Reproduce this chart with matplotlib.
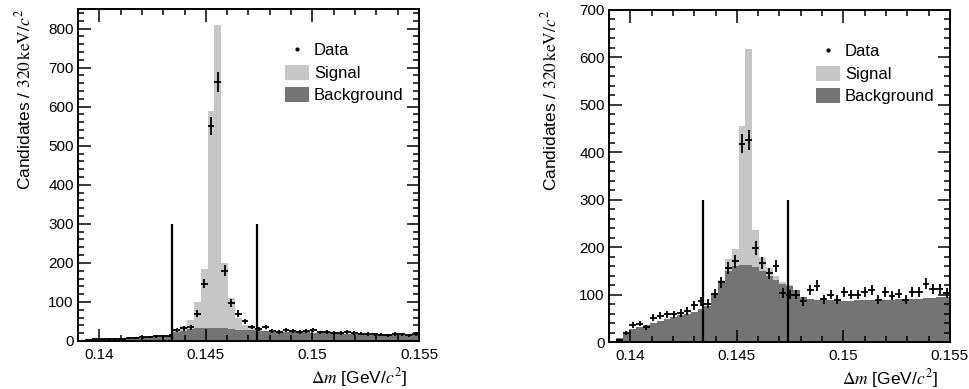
import numpy as np
import matplotlib
matplotlib.use('Agg')
import matplotlib.pyplot as plt
from matplotlib.patches import Patch
from matplotlib.lines import Line2D
from matplotlib.ticker import MultipleLocator, FixedLocator

plt.rcParams['font.family'] = ['Liberation Sans', 'DejaVu Sans']
plt.rcParams['mathtext.fontset'] = 'stix'

# binning: 50 bins of 320 keV from 0.139 to 0.155 GeV
edges = 0.139 + 0.00032 * np.arange(51)
cut_lo, cut_hi = 0.1434, 0.1474

# left panel
data_L = [0, 2, 6, 4, 5, 6, 5, 7, 8, 9, 10, 12, 12, 14, 28, 32, 35, 70, 147, 551,
          664, 180, 98, 70, 50, 36, 30, 36, 26, 24, 29, 25, 24, 26, 27, 22, 24, 21, 20, 23,
          21, 19, 18, 17, 16, 15, 18, 17, 15, 18]
bkg_L = [0, 1, 3, 4, 5, 6, 7, 7, 8, 8, 9, 10, 11, 13, 22, 26, 30, 32, 33, 34,
         34, 33, 31, 29, 28, 27, 26, 25, 24, 24, 23, 23, 22, 22, 21, 21, 20, 20, 20, 19,
         19, 18, 18, 18, 17, 17, 17, 16, 16, 16]
sig_L = [0, 0, 0, 0, 0, 0, 0, 0, 0, 0, 0, 0, 0, 1, 5, 12, 25, 68, 152, 556,
         774, 167, 79, 31, 14, 6, 3, 1, 0, 0, 0, 0, 0, 0, 0, 0, 0, 0, 0, 0,
         0, 0, 0, 0, 0, 0, 0, 0, 0, 0]

# right panel
data_R = [0, 5, 19, 36, 39, 31, 51, 55, 58, 58, 61, 65, 77, 86, 81, 102, 126, 156, 170, 418,
          426, 198, 166, 145, 160, 103, 100, 100, 86, 109, 119, 90, 100, 89, 105, 100, 100, 105, 110, 89,
          105, 98, 102, 89, 105, 105, 123, 112, 112, 103]
bkg_R = [2, 8, 20, 28, 32, 36, 40, 44, 48, 52, 56, 60, 64, 70, 76, 100, 125, 150, 160, 163,
         162, 158, 150, 140, 130, 122, 118, 110, 95, 90, 88, 88, 88, 87, 87, 87, 88, 88, 88, 88,
         89, 89, 90, 90, 90, 91, 92, 93, 94, 95]
sig_R = [0, 0, 0, 0, 0, 0, 0, 0, 0, 0, 0, 0, 0, 0, 0, 0, 5, 25, 36, 293,
         455, 79, 30, 15, 10, 4, 2, 0, 0, 0, 0, 0, 0, 0, 0, 0, 0, 0, 0, 0,
         0, 0, 0, 0, 0, 0, 0, 0, 0, 0]

sig_col = '#c6c6c6'
bkg_col = '#747474'

fig = plt.figure(figsize=(9.7, 3.89), dpi=100)
axL = fig.add_axes([0.0804, 0.1234, 0.3515, 0.8535])
axR = fig.add_axes([0.6278, 0.1208, 0.3515, 0.8535])


def draw(ax, data, bkg, sig, ymax):
    data = np.array(data, float)
    bkg = np.array(bkg, float)
    sig = np.array(sig, float)
    w = np.diff(edges)
    centers = edges[:-1] + w / 2
    ax.bar(edges[:-1], bkg, width=w, align='edge', color=bkg_col, linewidth=0)
    ax.bar(edges[:-1], sig, bottom=bkg, width=w, align='edge', color=sig_col, linewidth=0)
    ax.errorbar(centers, data, xerr=w / 2, yerr=np.sqrt(data), fmt='none',
                ecolor='black', elinewidth=1.3, capsize=0)
    ax.vlines([cut_lo, cut_hi], 0, 300, color='black', linewidth=1.6)
    ax.set_xlim(0.139, 0.155)
    ax.set_ylim(0, ymax)
    ax.xaxis.set_major_locator(FixedLocator([0.14, 0.145, 0.15, 0.155]))
    ax.set_xticklabels(['0.14', '0.145', '0.15', '0.155'])
    ax.xaxis.set_minor_locator(MultipleLocator(0.001))
    ax.yaxis.set_major_locator(MultipleLocator(100))
    ax.yaxis.set_minor_locator(MultipleLocator(20))
    ax.tick_params(which='both', direction='in', top=True, right=True, labelsize=11, width=1.1)
    ax.tick_params(which='major', length=9, pad=3)
    ax.tick_params(axis='x', which='major', pad=5)
    ax.tick_params(which='minor', length=4.5)
    for s in ax.spines.values():
        s.set_linewidth(1.4)
    ax.set_xlabel(r'$\Delta m$ [GeV/$c^2$]', fontsize=12.5, loc='right')
    ax.xaxis.set_label_coords(0.965, -0.075, transform=ax.transAxes)
    ax.xaxis.label.set_horizontalalignment('right')
    ax.set_ylabel(r'Candidates / $\mathrm{320\,keV}/c^2$', fontsize=12.5, loc='top')
    handles = [Line2D([], [], marker='.', markersize=4, color='black', linestyle='none'),
               Patch(facecolor=sig_col, edgecolor='none'),
               Patch(facecolor=bkg_col, edgecolor='none')]
    ax.legend(handles, ['Data', 'Signal', 'Background'], loc='upper left',
              bbox_to_anchor=(0.572, 0.935), frameon=False, fontsize=12,
              handlelength=1.45, handleheight=1.0, handletextpad=0.3, labelspacing=0.38,
              borderpad=0.2)


draw(axL, data_L, bkg_L, sig_L, 850)
axL.yaxis.set_label_coords(-0.13, 1.0)
draw(axR, data_R, bkg_R, sig_R, 700)
axR.yaxis.set_label_coords(-0.145, 1.0)

fig.savefig('out.png', dpi=100)
